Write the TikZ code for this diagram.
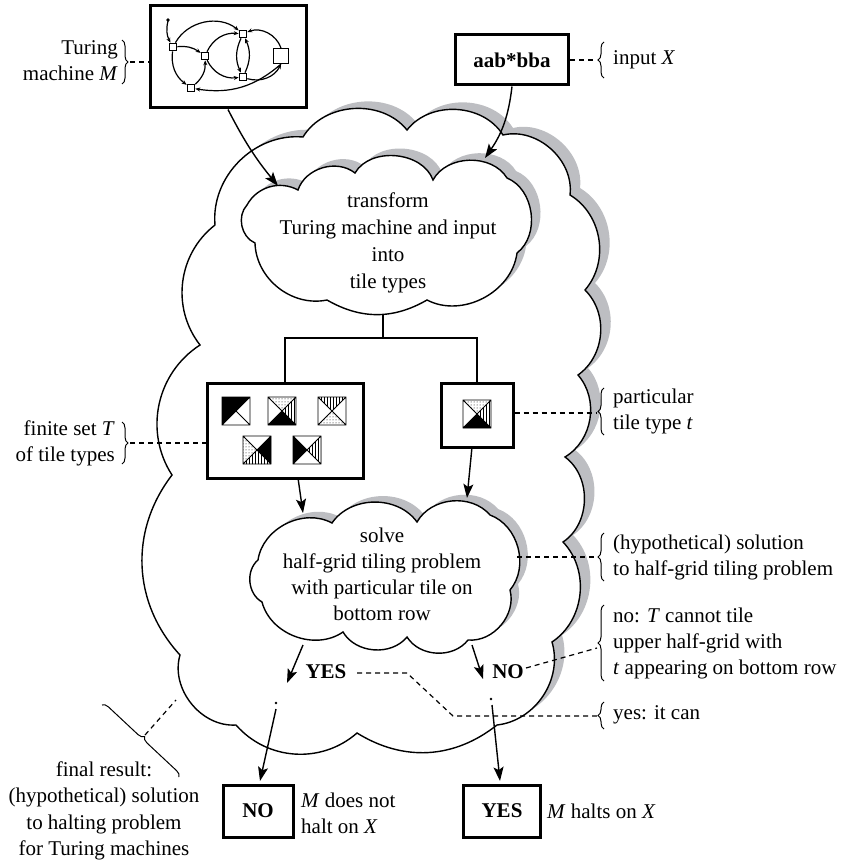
\documentclass[tikz,border=0pt]{standalone}
\usepackage{fontspec}
\setmainfont{Liberation Serif}
\usetikzlibrary{arrows.meta,decorations.pathreplacing,patterns,calc}
\definecolor{shadowgray}{RGB}{189,190,194}
\tikzset{
  box/.style={draw, line width=3pt, fill=white, inner sep=0pt},
  cloudline/.style={draw, line width=1.4pt, fill=white},
  conn/.style={line width=1.4pt, -{Stealth[length=14pt,width=10pt,inset=3pt]}},
  tmedge/.style={line width=1.2pt, -{Stealth[length=5pt,width=4pt]}},
  tmstate/.style={draw, line width=1.1pt, fill=white, minimum size=7.5pt, inner sep=0pt},
  dashline/.style={line width=1.2pt, dash pattern=on 5pt off 4pt},
  bracestyle/.style={line width=1pt, decorate, decoration={brace, amplitude=6pt}},
  lbl/.style={inner sep=0pt},
}
\newcommand\bigcloudpath{(215,-225) to[bend left=50] (303,-137) to[bend left=55] (407,-130) to[bend left=55] (503,-135) to[bend left=55] (570,-195) to[bend left=50] (585,-290) to[bend left=50] (578,-375) to[bend left=50] (565,-457) to[bend left=55] (563,-542) to[bend left=50] (552,-642) to[bend left=50] (497,-725) to[bend left=35] (357,-733) to[bend left=45] (236,-725) to[bend left=55] (180,-655) to[bend left=40] (172,-475) to[bend left=45] (200,-345) to[bend left=45] (215,-225) -- cycle}
\newcommand\tfcloudpath{(247,-205) to[bend left=45] (298,-190) to[bend left=55] (355,-173) to[bend left=65] (433,-180) to[bend left=60] (507,-178) to[bend left=60] (517,-253) to[bend left=55] (427,-300) to[bend left=30] (327,-300) to[bend left=50] (255,-243) to[bend left=55] (247,-205) -- cycle}
\newcommand\solvecloudpath{(258,-560) to[bend left=55] (332,-523) to[bend left=55] (417,-522) to[bend left=55] (490,-515) to[bend left=55] (510,-590) to[bend left=55] (468,-640) to[bend left=55] (407,-637) to[bend left=55] (343,-632) to[bend left=55] (262,-602) to[bend left=55] (258,-560) -- cycle}
\newcommand\tile[6]{%
  \begin{scope}[shift={(#1,#2)}]
    \fill[white] (-14,-14) rectangle (14,14);
    \path[#3] (-14,14) -- (14,14) -- (0,0) -- cycle;
    \path[#4] (14,14) -- (14,-14) -- (0,0) -- cycle;
    \path[#5] (14,-14) -- (-14,-14) -- (0,0) -- cycle;
    \path[#6] (-14,-14) -- (-14,14) -- (0,0) -- cycle;
    \draw[line width=0.9pt] (-14,-14) rectangle (14,14) (-14,-14) -- (14,14) (-14,14) -- (14,-14);
  \end{scope}}
\begin{document}
\begin{tikzpicture}[x=1pt,y=1pt,font=\fontsize{21pt}{26pt}\selectfont]
\useasboundingbox (0,0) rectangle (846,-864);

% ---------- big cloud ----------
\fill[shadowgray,shift={(10,7)}] \bigcloudpath;
\path[cloudline] \bigcloudpath;

% ---------- transform cloud ----------
\fill[shadowgray,shift={(9,7)}] \tfcloudpath;
\path[cloudline] \tfcloudpath;
\node[lbl, align=center, font=\fontsize{21pt}{27pt}\selectfont] (tf) at (388,-243) {transform\\Turing machine and input\\into\\tile types};
\coordinate (tfbot) at (383,-314);

% ---------- solve cloud ----------
\fill[shadowgray,shift={(8,6)}] \solvecloudpath;
\path[cloudline] \solvecloudpath;
\node[lbl, align=center] (solve) at (382,-574) {solve\\half-grid tiling problem\\with particular tile on\\bottom row};

% ---------- Turing machine box ----------
\node[box, minimum width=156pt, minimum height=102pt] (tm) at (228,-57) {};
\fill (168,-20) circle (1.8pt);
\coordinate (start) at (168,-21);
\node[tmstate] (A) at (173,-47) {};
\node[tmstate] (B) at (205,-56) {};
\node[tmstate] (C) at (243,-34) {};
\node[tmstate] (D) at (243,-77) {};
\node[tmstate, minimum size=15pt] (E) at (281,-56) {};
\node[tmstate] (F) at (191,-88) {};
\draw[tmedge] (start) to[bend right=20] (A);
\draw[tmedge] (A) to[bend left=50] (C);
\draw[tmedge] (A) to[bend left=20] (B);
\draw[tmedge] (A) to[bend right=30] (F);
\draw[tmedge] (F) to[bend right=25] (B);
\draw[tmedge] (B) to[bend left=35] (C);
\draw[tmedge] (B) to[bend right=35] (D);
\draw[tmedge] (C) to[bend right=25] (D);
\draw[tmedge] (D) to[bend right=25] (C);
\draw[tmedge] (E.north) to[bend right=45] (C);
\draw[tmedge] (D) to[bend right=40] (E.south);
\draw[tmedge] (E.south) to[bend left=25] (F);

\node[lbl, align=right, anchor=east] (tmlabel) at (118,-61) {Turing\\machine \textit{M}};
\draw[bracestyle] (122,-40) -- (122,-84);
\coordinate (tmbr) at (130,-62);
\draw[dashline] (tmbr) -- (tm.west |- tmbr);

% ---------- input box ----------
\node[box, minimum width=113pt, minimum height=50pt, font=\fontsize{21pt}{26pt}\selectfont\bfseries] (aab) at (512,-60) {aab*bba};
\draw[bracestyle] (604,-78) -- (604,-42);
\coordinate (inbr) at (597,-60);
\draw[dashline] (aab.east) -- (inbr);
\node[lbl, anchor=west] (inlabel) at (613,-60) {input \textit{X}};

% ---------- arrows into the big cloud ----------
\coordinate (tmtip) at (278,-186);
\coordinate (aabtip) at (485,-158);
\draw[conn] (tm.south) to[bend right=6] (tmtip);
\draw[conn] (aab.south) to[bend left=14] (aabtip);

% ---------- tile set and particular tile ----------
\node[box, minimum width=156pt, minimum height=95pt] (tiles) at (285,-430.5) {};
\tile{236}{-411}{fill=black}{fill=white}{fill=white}{fill=black}
\tile{282}{-411}{pattern=dots}{pattern=vertical lines}{fill=black}{fill=white}
\tile{332}{-411}{pattern=vertical lines}{fill=white}{pattern=dots}{fill=white}
\tile{257}{-450}{fill=white}{fill=black}{pattern=vertical lines}{pattern=dots}
\tile{307}{-450}{fill=white}{pattern=vertical lines}{fill=white}{fill=black}

\node[box, minimum width=72pt, minimum height=64pt] (ptile) at (477,-415) {};
\tile{477}{-414}{pattern=dots}{pattern=vertical lines}{fill=black}{fill=white}

% connector tree
\coordinate (split) at (383,-338);
\draw[line width=1.4pt] (tfbot) -- (split);
\draw[line width=1.4pt] (tiles.north) |- (split) -| (ptile.north);

% labels for tiles
\node[lbl, align=right, anchor=east] (tslabel) at (115,-443) {finite set \textit{T}\\of tile types};
\draw[bracestyle] (122,-422) -- (122,-464);
\coordinate (tsbr) at (130,-443);
\draw[dashline] (tsbr) -- (tiles.west |- tsbr);

\draw[bracestyle] (604,-435) -- (604,-388);
\coordinate (ptbr) at (597,-413);
\draw[dashline] (ptile.east |- ptbr) -- (ptbr);
\node[lbl, align=left, anchor=west] (ptlabel) at (613,-411) {particular\\tile type \textit{t}};

% arrows into solve cloud
\coordinate (tilesout) at (298,-478);
\coordinate (solvetipL) at (303,-513);
\coordinate (ptileout) at (472,-447);
\coordinate (solvetipR) at (467,-498);
\draw[conn] (tilesout) -- (solvetipL);
\draw[conn] (ptileout) -- (solvetipR);

% solution label
\coordinate (solveright) at (517,-557);
\coordinate (solbr) at (597,-557);
\draw[dashline] (solveright) -- (solbr);
\draw[bracestyle] (604,-581) -- (604,-533);
\node[lbl, align=left, anchor=west] (sollabel) at (613,-557) {(hypothetical) solution\\to half-grid tiling problem};

% YES / NO from solve cloud
\coordinate (yesstart) at (303,-645);
\coordinate (yestip) at (287,-683);
\coordinate (nostart) at (472,-645);
\coordinate (notip) at (483,-679);
\draw[conn] (yesstart) -- (yestip);
\draw[conn] (nostart) -- (notip);
\node[lbl, font=\fontsize{21pt}{26pt}\selectfont\bfseries] (yes) at (326,-672) {YES};
\node[lbl, font=\fontsize{21pt}{26pt}\selectfont\bfseries] (no) at (508,-672) {NO};

% no label
\coordinate (nobr) at (597,-648);
\coordinate (noend) at (526,-668);
\draw[dashline] (noend) -- (nobr);
\draw[bracestyle] (604,-681) -- (604,-605);
\node[lbl, align=left, anchor=west] (nolabel) at (613,-643) {no: \textit{T} cannot tile\\upper half-grid with\\\textit{t} appearing on bottom row};

% yes label
\coordinate (yesend) at (357,-673);
\coordinate (ybend1) at (407,-673);
\coordinate (ybend2) at (453,-716);
\coordinate (yesbr) at (597,-716);
\draw[dashline] (yesend) -- (ybend1) -- (ybend2) -- (yesbr);
\draw[bracestyle] (604,-729) -- (604,-702);
\node[lbl, anchor=west] (yeslabel) at (613,-715) {yes: it can};

% final boxes
\node[box, minimum width=70pt, minimum height=52pt, font=\fontsize{21pt}{26pt}\selectfont\bfseries] (nobox) at (258,-811) {NO};
\node[box, minimum width=77pt, minimum height=52pt, font=\fontsize{21pt}{26pt}\selectfont\bfseries] (yesbox) at (502,-811) {YES};
\fill (276,-703) circle (1.4pt);
\fill (491,-699) circle (1.4pt);
\coordinate (dotL) at (276,-709);
\coordinate (dotR) at (492,-705);
\coordinate (noboxtip) at (260,-781);
\coordinate (yesboxtip) at (500,-781);
\draw[conn] (dotL) -- (noboxtip);
\draw[conn] (dotR) -- (yesboxtip);
\node[lbl, align=left, anchor=west] (nolbl2) at (301,-813) {\textit{M} does not\\halt on \textit{X}};
\node[lbl, anchor=west] (yeslbl2) at (547,-811) {\textit{M} halts on \textit{X}};

% final result
\node[lbl, align=center, font=\fontsize{21pt}{26.5pt}\selectfont] (final) at (104,-811) {final result:\\(hypothetical) solution\\to halting problem\\for Turing machines};
\draw[bracestyle] (102,-705) -- (179,-777);
\coordinate (finbr) at (145,-735);
\coordinate (fincloud) at (176,-700);
\draw[dashline] (finbr) -- (fincloud);
\end{tikzpicture}
\end{document}
